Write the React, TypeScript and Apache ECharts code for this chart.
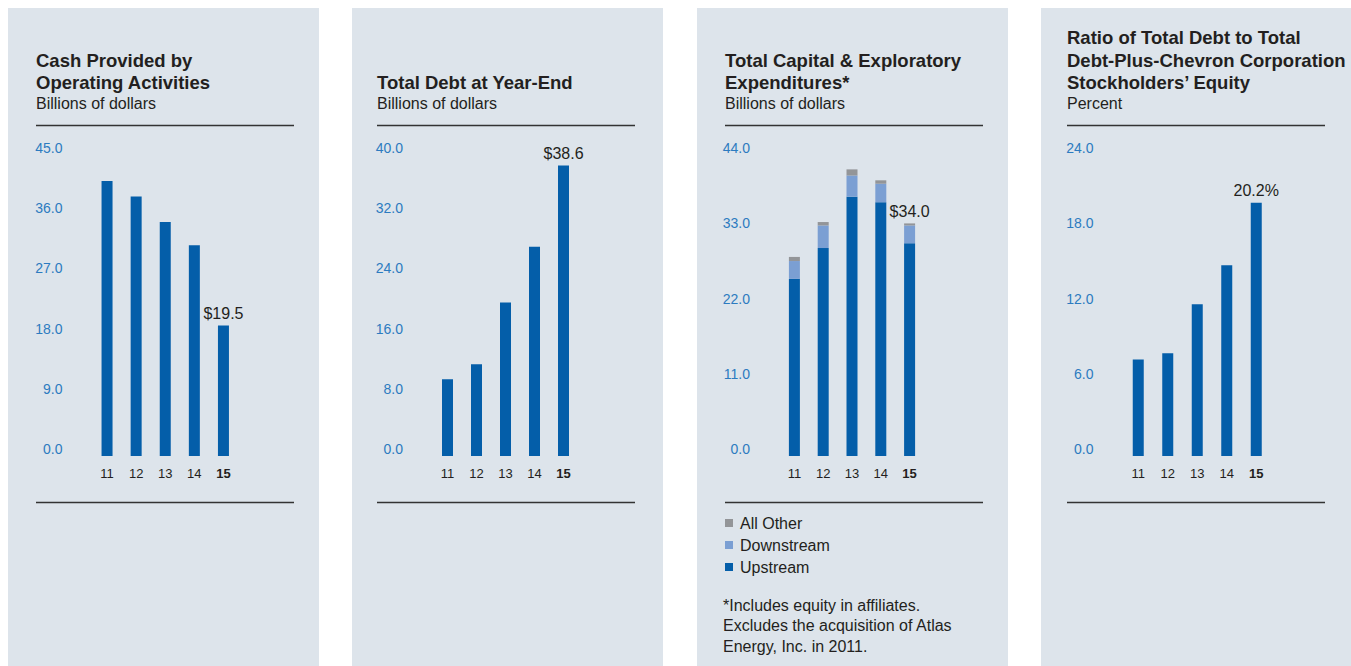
import React, { useEffect, useRef } from "react";
import * as echarts from "echarts";

const years = ["11", "12", "13", "14", "15"];
const cashFromOps = [41.1, 38.8, 35.0, 31.5, 19.5];
const totalDebt = [10.2, 12.2, 20.4, 27.8, 38.6];
const upstream = [25.9, 30.4, 37.9, 37.1, 31.1];
const downstream = [2.6, 3.3, 3.1, 2.7, 2.6];
const allOther = [0.6, 0.5, 0.9, 0.5, 0.3];
const debtRatio = [7.7, 8.2, 12.1, 15.2, 20.2];

const yAxes = [
  { max: 45, interval: 9 },
  { max: 40, interval: 8 },
  { max: 44, interval: 11 },
  { max: 24, interval: 6 },
];

const titles = [
  { lines: ["Cash Provided by", "Operating Activities"], sub: "Billions of dollars" },
  { lines: ["Total Debt at Year-End"], sub: "Billions of dollars" },
  { lines: ["Total Capital & Exploratory", "Expenditures*"], sub: "Billions of dollars" },
  { lines: ["Ratio of Total Debt to Total", "Debt-Plus-Chevron Corporation", "Stockholders\u2019 Equity"], sub: "Percent" },
];

const footnote = [
  "*Includes equity in affiliates.",
  "Excludes the acquisition of Atlas",
  "Energy, Inc. in 2011.",
];

const BLUE = "#045ea9";
const LIGHT = "#7b9fd3";
const GREY = "#939598";
const TEXT = "#231f20";
const AXIS_BLUE = "#2c7bc0";
const FONT = "'Liberation Sans', Arial, Helvetica, sans-serif";

export default function App() {
  const ref = useRef<HTMLDivElement>(null);

  useEffect(() => {
    if (!ref.current) return;
    const chart = echarts.init(ref.current, undefined, { renderer: "svg" });

    const panelX = [8, 352, 697, 1041];
    const panelW = [311, 311, 311, 310];
    const textX = [36, 377, 725, 1067];
    const grids = [
      { left: 92.5, width: 145.5 },
      { left: 433, width: 145 },
      { left: 780, width: 144 },
      { left: 1123.5, width: 147.5 },
    ].map((g) => ({ ...g, top: 155, height: 301 }));

    const graphics: any[] = [];
    panelX.forEach((px, i) => {
      graphics.push({
        type: "rect",
        z: -10,
        shape: { x: px, y: 8, width: panelW[i], height: 660 },
        style: { fill: "#dde4eb" },
      });
      const tx = textX[i];
      const t = titles[i];
      const n = t.lines.length;
      t.lines.forEach((ln, k) => {
        graphics.push({
          type: "text",
          x: tx,
          y: 82.5 - (n - 1 - k) * 22.5,
          style: {
            text: ln,
            font: `bold 18.5px ${FONT}`,
            fill: TEXT,
            verticalAlign: "middle",
          },
        });
      });
      graphics.push({
        type: "text",
        x: tx,
        y: 103,
        style: { text: t.sub, font: `16px ${FONT}`, fill: TEXT, verticalAlign: "middle" },
      });
      graphics.push({
        type: "line",
        shape: { x1: tx, y1: 125.5, x2: tx + 258, y2: 125.5 },
        style: { stroke: "#333", lineWidth: 1.5 },
      });
      graphics.push({
        type: "line",
        shape: { x1: tx, y1: 502.5, x2: tx + 258, y2: 502.5 },
        style: { stroke: "#333", lineWidth: 1.5 },
      });
    });
    footnote.forEach((ln, k) => {
      graphics.push({
        type: "text",
        x: 723,
        y: 605 + k * 20.5,
        style: { text: ln, font: `16px ${FONT}`, fill: TEXT, verticalAlign: "middle" },
      });
    });

    const xAxis = grids.map((_, i) => ({
      type: "category",
      gridIndex: i,
      data: years,
      axisLine: { show: false },
      axisTick: { show: false },
      axisLabel: {
        interval: 0,
        margin: 11,
        fontSize: 13,
        fontFamily: FONT,
        color: TEXT,
        formatter: (v: string) => (v === "15" ? `{b|${v}}` : `{n|${v}}`),
        rich: {
          b: { fontWeight: "bold", fontSize: 13, fontFamily: FONT, color: TEXT },
          n: { fontSize: 13, fontFamily: FONT, color: TEXT },
        },
      },
    }));

    const yAxis = yAxes.map((a, i) => ({
      type: "value",
      gridIndex: i,
      min: 0,
      max: a.max,
      interval: a.interval,
      splitLine: { show: false },
      axisLine: { show: false },
      axisTick: { show: false },
      axisLabel: {
        margin: 30,
        fontSize: 14,
        fontFamily: FONT,
        color: AXIS_BLUE,
        verticalAlign: "bottom",
        formatter: (v: number) => v.toFixed(1),
      },
    }));

    const lastLabel = (arr: number[], fmt: (v: number) => string, color: string) =>
      arr.map((v, idx) =>
        idx === arr.length - 1
          ? {
              value: v,
              label: {
                show: true,
                position: "top",
                distance: 4,
                formatter: fmt(v),
                fontSize: 16,
                fontFamily: FONT,
                color: TEXT,
              },
              itemStyle: { color },
            }
          : v
      );

    const ceTotal = upstream[4] + downstream[4] + allOther[4];

    const series: any[] = [
      {
        type: "bar",
        xAxisIndex: 0,
        yAxisIndex: 0,
        barWidth: 11,
        itemStyle: { color: BLUE },
        data: lastLabel(cashFromOps, (v) => `$${v.toFixed(1)}`, BLUE),
      },
      {
        type: "bar",
        xAxisIndex: 1,
        yAxisIndex: 1,
        barWidth: 11,
        itemStyle: { color: BLUE },
        data: lastLabel(totalDebt, (v) => `$${v.toFixed(1)}`, BLUE),
      },
      {
        name: "Upstream",
        type: "bar",
        stack: "ce",
        xAxisIndex: 2,
        yAxisIndex: 2,
        barWidth: 11,
        itemStyle: { color: BLUE },
        data: upstream,
      },
      {
        name: "Downstream",
        type: "bar",
        stack: "ce",
        xAxisIndex: 2,
        yAxisIndex: 2,
        barWidth: 11,
        itemStyle: { color: LIGHT },
        data: downstream,
      },
      {
        name: "All Other",
        type: "bar",
        stack: "ce",
        xAxisIndex: 2,
        yAxisIndex: 2,
        barWidth: 11,
        itemStyle: { color: GREY },
        data: lastLabel(allOther, () => `$${ceTotal.toFixed(1)}`, GREY),
      },
      {
        type: "bar",
        xAxisIndex: 3,
        yAxisIndex: 3,
        barWidth: 11,
        itemStyle: { color: BLUE },
        data: lastLabel(debtRatio, (v) => `${v.toFixed(1)}%`, BLUE),
      },
    ];

    chart.setOption({
      animation: false,
      grid: grids,
      xAxis,
      yAxis,
      series,
      legend: {
        orient: "vertical",
        left: 725,
        top: 512,
        padding: 0,
        itemGap: 0,
        itemWidth: 8,
        itemHeight: 8,
        icon: "rect",
        selectedMode: false,
        data: ["All Other", "Downstream", "Upstream"],
        textStyle: { fontSize: 16, fontFamily: FONT, color: TEXT, lineHeight: 22, padding: [0, 0, 0, 2] },
      },
      graphic: graphics,
    });

    return () => chart.dispose();
  }, []);

  return (
    <div
      ref={ref}
      style={{ position: "absolute", left: 0, top: 0, width: 1351, height: 666, background: "#fff" }}
    />
  );
}
